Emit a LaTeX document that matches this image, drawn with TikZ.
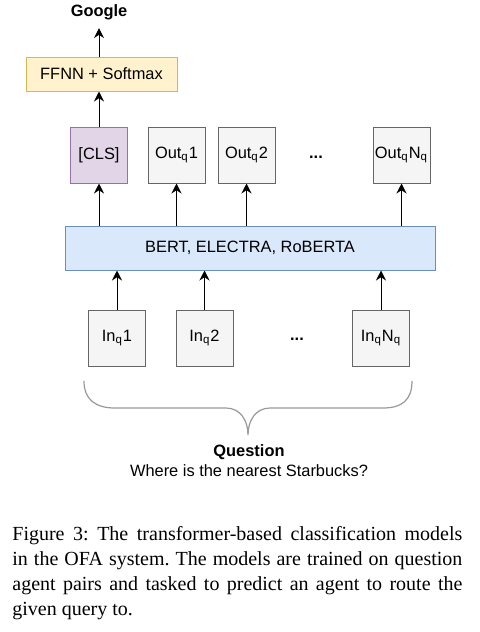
\documentclass[tikz,border=0pt]{standalone}
\usepackage{fontspec}
\setmainfont{Liberation Serif}
\newfontfamily\diagfont{Liberation Sans}
\usetikzlibrary{arrows.meta}

\definecolor{ffnnfill}{HTML}{FFF2CC}
\definecolor{ffnnline}{HTML}{D6B656}
\definecolor{clsfill}{HTML}{E1D5E7}
\definecolor{clsline}{HTML}{9673A6}
\definecolor{cellfill}{HTML}{F5F5F5}
\definecolor{cellline}{HTML}{666666}
\definecolor{bertfill}{HTML}{DAE8FC}
\definecolor{bertline}{HTML}{6C8EBF}
\definecolor{bracegray}{HTML}{999999}

\begin{document}
\begin{tikzpicture}[x=0.5pt,y=-0.5pt,
  txt/.style={font=\diagfont\fontsize{8.2}{10}\selectfont},
  txtb/.style={font=\diagfont\bfseries\fontsize{8.2}{10}\selectfont},
  cell/.style={txt,draw=cellline,fill=cellfill,line width=0.5pt,inner sep=0pt,
    minimum width=28.5pt,minimum height=28pt},
  arr/.style={-{Stealth[length=5pt,width=5pt]},line width=0.5pt}]

  \useasboundingbox (0,0) rectangle (480,632);

  % output side
  \node[txtb,inner sep=4pt] (google) at (99,12) {Google};
  \node[txt,draw=ffnnline,fill=ffnnfill,line width=0.5pt,inner sep=0pt,
    minimum width=75.5pt,minimum height=17pt] (ffnn) at (101.5,74) {FFNN + Softmax};

  \node[cell,draw=clsline,fill=clsfill] (cls) at (99,155) {[CLS]};
  \node[cell] (out1) at (176.5,155) {Out\textsubscript{q}1};
  \node[cell] (out2) at (246.5,155) {Out\textsubscript{q}2};
  \node[txtb] (odots) at (316,157) {...};
  \node[cell] (outn) at (401.5,155) {Out\textsubscript{q}N\textsubscript{q}};

  % encoder
  \node[txt,draw=bertline,fill=bertfill,line width=0.5pt,inner sep=0pt,
    minimum width=185pt,minimum height=22pt] (bert) at (250,248) {BERT, ELECTRA, RoBERTA};

  % input side
  \node[cell] (in1) at (117,338) {In\textsubscript{q}1};
  \node[cell] (in2) at (204.5,338) {In\textsubscript{q}2};
  \node[txtb] (idots) at (297,339) {...};
  \node[cell] (inn) at (381,338) {In\textsubscript{q}N\textsubscript{q}};

  \draw[arr] (ffnn.north -| cls) -- (cls |- google.south);
  \draw[arr] (cls.north) -- (cls |- ffnn.south);
  \foreach \n in {cls,out1,out2,outn}
    \draw[arr] (bert.north -| \n) -- (\n.south);
  \foreach \n in {in1,in2,inn}
    \draw[arr] (\n.north) -- (\n |- bert.south);

  % brace
  \draw[bracegray,line width=0.6pt] (84,381) .. controls (84,400) and (96,408) .. (115,408)
    -- (226,408) .. controls (240,408) and (248,420) .. (248,435)
    .. controls (248,420) and (256,408) .. (270,408)
    -- (383,408) .. controls (402,408) and (412,400) .. (412,381);

  \node[txtb] (question) at (249,452) {Question};
  \node[txt] (query) at (249,471) {Where is the nearest Starbucks?};

  \node[anchor=north west,inner sep=0pt,text width=225pt,align=justify,
    font=\frenchspacing\fontsize{10}{12.5}\selectfont] (caption) at (12,526)
    {Figure 3: The transformer-based classification models\linebreak in the OFA system. The models are trained on question\linebreak agent pairs and tasked to predict an agent to route the given query to.};
\end{tikzpicture}
\end{document}
